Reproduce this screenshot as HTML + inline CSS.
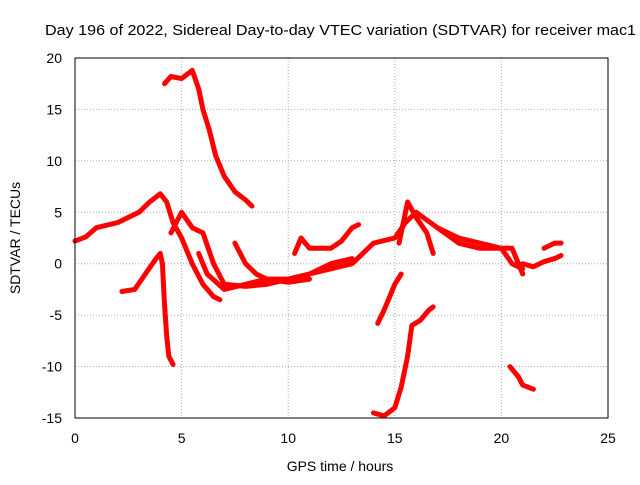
<!DOCTYPE html>
<html><head><meta charset="utf-8"><style>
body{margin:0;background:#fff}
svg text{font-family:"Liberation Sans",sans-serif;fill:#000}
</style></head><body>
<svg id="chart" width="640" height="480" xmlns="http://www.w3.org/2000/svg">
<text x="45" y="35" font-size="15" textLength="591" lengthAdjust="spacingAndGlyphs">Day 196 of 2022, Sidereal Day-to-day VTEC variation (SDTVAR) for receiver mac1</text>
<text x="340" y="471" font-size="14" text-anchor="middle">GPS time / hours</text>
<text transform="translate(20,238) rotate(-90)" font-size="14" text-anchor="middle">SDTVAR / TECUs</text>
<g id="grid"></g><g id="ticks"></g><g id="series"></g>
<rect x="75" y="58" width="533" height="360" fill="none" stroke="#000" stroke-width="1"/>
</svg>
<script>
const xTicks=[0,5,10,15,20,25];
const yTicks=[20,15,10,5,0,-5,-10,-15];
const trackATime=[4.2,4.5,5,5.5,5.8,6,6.3,6.6,7,7.5,8,8.3];
const trackAVal=[17.5,18.2,18,18.8,17,15,13,10.5,8.5,7,6.2,5.6];
const trackBTime=[0,0.5,1,2,3,3.5,4,4.3,4.6,5,5.5,6,6.5,6.8];
const trackBVal=[2.2,2.6,3.5,4,5,6,6.8,6,4,2.5,0,-2,-3.2,-3.5];
const trackCTime=[2.2,2.8,3.3,3.8,4,4.1,4.2,4.3,4.4,4.6];
const trackCVal=[-2.7,-2.5,-1,0.5,1,0,-4,-7,-9,-9.8];
const trackDTime=[4.5,5,5.5,6,6.5,7,8,9,10,11,12,13,14,15,15.5,16,17,18,19,20,20.5,21];
const trackDVal=[3,5,3.5,3,0,-2,-2.2,-2,-1.5,-1,-0.5,0,2,2.5,4,5,3.5,2.5,2,1.5,0,-0.5];
const trackETime=[10.3,10.6,11,12,12.5,13,13.3];
const trackEVal=[1,2.5,1.5,1.5,2.2,3.5,3.8];
const trackFTime=[14.2,14.5,15,15.3];
const trackFVal=[-5.8,-4.5,-2,-1];
const trackGTime=[14,14.5,15,15.3,15.6,15.8,16.2,16.6,16.8];
const trackGVal=[-14.5,-14.8,-14,-12,-9,-6,-5.5,-4.5,-4.2];
const trackHTime=[20.4,20.8,21,21.5];
const trackHVal=[-10,-11,-11.8,-12.2];
const trackITime=[21,21.5,22,22.5,22.8];
const trackIVal=[0,-0.3,0.2,0.5,0.8];
const trackI2Time=[22,22.5,22.8];
const trackI2Val=[1.5,2,2];
const trackJTime=[15.2,15.6,16,16.5,16.8];
const trackJVal=[2,6,4.5,3,1];
const trackKTime=[5.8,6.2,7,8,9,10,11,12,13];
const trackKVal=[1,-1,-2.5,-2,-1.5,-1.5,-1,0,0.5];
const trackLTime=[7.5,8,8.5,9,10,11];
const trackLVal=[2,0,-1,-1.5,-1.8,-1.5];
const trackMTime=[17,18,19,20,20.5,21];
const trackMVal=[3.5,2,1.5,1.5,1.5,-1];
const tracks=[[trackATime,trackAVal],[trackBTime,trackBVal],[trackCTime,trackCVal],[trackDTime,trackDVal],[trackETime,trackEVal],[trackFTime,trackFVal],[trackGTime,trackGVal],[trackHTime,trackHVal],[trackITime,trackIVal],[trackI2Time,trackI2Val],[trackJTime,trackJVal],[trackKTime,trackKVal],[trackLTime,trackLVal],[trackMTime,trackMVal]];
const X=t=>75+t*(533/25), Y=v=>418-(v+15)*(360/35);
const NS="http://www.w3.org/2000/svg";
const g=document.getElementById('grid'),tk=document.getElementById('ticks'),s=document.getElementById('series');
function mk(tag,a,p){const e=document.createElementNS(NS,tag);for(const k in a)e.setAttribute(k,a[k]);p.appendChild(e);return e;}
xTicks.forEach(t=>{
 if(t>0&&t<25){const l=mk('line',{x1:X(t),x2:X(t),y1:58,y2:418,stroke:'#aaa','stroke-dasharray':'1,2'},g);
 
 }
 const tx=mk('text',{x:X(t),y:443,'font-size':14,'text-anchor':'middle'},tk);tx.textContent=t;
 
 
});
yTicks.forEach(v=>{
 if(v>-15&&v<20){const l=mk('line',{x1:75,x2:608,y1:Y(v),y2:Y(v),stroke:'#aaa','stroke-dasharray':'1,2'},g);
 
 }
 const tx=mk('text',{x:62,y:Y(v)+5,'font-size':14,'text-anchor':'end'},tk);tx.textContent=v;
 
 
});
tracks.forEach(([ts,vs])=>{
 const pts=ts.map((t,i)=>X(t)+','+Y(vs[i])).join(' ');
 const pl=mk('polyline',{points:pts,fill:'none',stroke:'#f00','stroke-width':5,'stroke-linejoin':'round','stroke-linecap':'round'},s);
 
 
});
</script>
</body></html>
